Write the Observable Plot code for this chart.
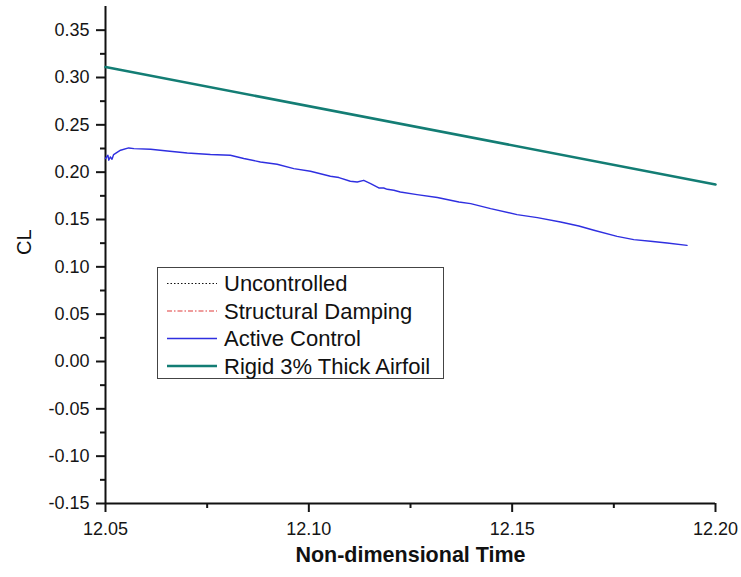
<!DOCTYPE html>
<html>
<head>
<meta charset="utf-8">
<script src="https://cdn.jsdelivr.net/npm/d3@7"></script>
<script src="https://cdn.jsdelivr.net/npm/@observablehq/plot@0.6"></script>
<style>
  html, body { margin: 0; padding: 0; background: #fff; }
  #chart { position: relative; width: 741px; height: 577px; font-family: "Liberation Sans", Arial, sans-serif; }
  #legend { position: absolute; left: 157px; top: 267px; }
</style>
</head>
<body>
<div id="chart"></div>
<script>
// Lift coefficient history vs non-dimensional time
const seriesNames = ["Uncontrolled", "Structural Damping", "Active Control", "Rigid 3% Thick Airfoil"];

// Active Control series
const activeT = [12.0500, 12.0506, 12.0508, 12.0512, 12.0516, 12.0520, 12.0537, 12.0557, 12.0570, 12.0611,
  12.0652, 12.0701, 12.0758, 12.0807, 12.0840, 12.0881, 12.0922, 12.0963, 12.1004, 12.1053,
  12.1074, 12.1102, 12.1119, 12.1135, 12.1152, 12.1172, 12.1184, 12.1193, 12.1209, 12.1225,
  12.1266, 12.1316, 12.1369, 12.1398, 12.1447, 12.1512, 12.1562, 12.1619, 12.1664, 12.1701,
  12.1758, 12.1799, 12.1840, 12.1881, 12.1930];
const activeCL = [0.2144, 0.2179, 0.2126, 0.2161, 0.2136, 0.2186, 0.2232, 0.2256, 0.2249, 0.2242,
  0.2224, 0.2203, 0.2187, 0.2179, 0.2144, 0.2108, 0.2084, 0.2038, 0.2010, 0.1957,
  0.1943, 0.1904, 0.1896, 0.1914, 0.1880, 0.1833, 0.1833, 0.1819, 0.1809, 0.1791,
  0.1763, 0.1732, 0.1685, 0.1668, 0.1615, 0.1552, 0.1520, 0.1474, 0.1431, 0.1386,
  0.1322, 0.1287, 0.1270, 0.1252, 0.1227];

// Rigid 3% thick airfoil series
const rigidT = [12.05, 12.20];
const rigidCL = [0.311, 0.187];

// Axis ticks
const xTicks = [12.05, 12.10, 12.15, 12.20];
const xMinorTicks = [12.075, 12.125, 12.175];
const yTicks = [-0.15, -0.10, -0.05, 0.00, 0.05, 0.10, 0.15, 0.20, 0.25, 0.30, 0.35];
const yMinorTicks = [-0.125, -0.075, -0.025, 0.025, 0.075, 0.125, 0.175, 0.225, 0.275, 0.325];

const colors = { black: "#111", red: "#e03a3a", blue: "#2f2fe0", teal: "#137d74" };

const active = activeT.map((t, i) => ({ t, cl: activeCL[i] }));
const rigid = rigidT.map((t, i) => ({ t, cl: rigidCL[i] }));

const plot = Plot.plot({
  width: 741,
  height: 577,
  marginLeft: 105,
  marginRight: 26,
  marginTop: 6,
  marginBottom: 74,
  x: { domain: [12.05, 12.20] },
  y: { domain: [-0.15, 0.375] },
  style: { fontFamily: "Liberation Sans, Arial, sans-serif", fontSize: "18px", color: "#151515", background: "#fff" },
  marks: [
    Plot.axisY({ ticks: yTicks, tickSize: 9, tickPadding: 7, strokeWidth: 2, tickFormat: d => d.toFixed(2), label: null }),
    Plot.axisY({ ticks: yMinorTicks, tickSize: 5, strokeWidth: 2, tickFormat: () => "", label: null }),
    Plot.axisX({ ticks: xTicks, tickSize: 9, tickPadding: 10, strokeWidth: 2, tickFormat: d => d.toFixed(2), label: null }),
    Plot.axisX({ ticks: xMinorTicks, tickSize: 5, strokeWidth: 2, tickFormat: () => "", label: null }),
    Plot.ruleX([12.05], { strokeWidth: 2, stroke: "#111" }),
    Plot.ruleY([-0.15], { strokeWidth: 2, stroke: "#111" }),
    Plot.line(rigid, { x: "t", y: "cl", stroke: colors.teal, strokeWidth: 2.6 }),
    Plot.line(active, { x: "t", y: "cl", stroke: colors.blue, strokeWidth: 1.4 }),
    Plot.text(["Non-dimensional Time"], { frameAnchor: "bottom", dy: 58, fontWeight: "bold", fontSize: 21.5, fill: "#111" }),
    Plot.text(["CL"], { frameAnchor: "left", dx: -81, rotate: -90, fontSize: 20, fill: "#111" })
  ]
});

const chart = document.getElementById("chart");
chart.appendChild(plot);

// Legend box drawn inside the plotting area
const legendW = 287, legendH = 112;
const legend = d3.create("svg")
  .attr("id", "legend")
  .attr("width", legendW)
  .attr("height", legendH)
  .style("font-family", "Liberation Sans, Arial, sans-serif");
legend.append("rect")
  .attr("x", 0.5).attr("y", 0.5)
  .attr("width", legendW - 1).attr("height", legendH - 1)
  .attr("fill", "#fff").attr("stroke", "#444").attr("stroke-width", 1);

const legendStyles = [
  { stroke: colors.black, width: 1, dash: "1.5,2" },
  { stroke: colors.red, width: 1.2, dash: "5,2,1.5,2" },
  { stroke: colors.blue, width: 1.4, dash: null },
  { stroke: colors.teal, width: 2.6, dash: null }
];
seriesNames.forEach((name, i) => {
  const cy = 16.5 + i * 27.5;
  const s = legendStyles[i];
  const ln = legend.append("line")
    .attr("x1", 10).attr("x2", 60).attr("y1", cy).attr("y2", cy)
    .attr("stroke", s.stroke).attr("stroke-width", s.width);
  if (s.dash) ln.attr("stroke-dasharray", s.dash);
  legend.append("text")
    .attr("x", 67).attr("y", cy).attr("dy", "0.35em")
    .attr("font-size", 22).attr("fill", "#111")
    .text(name);
});
chart.appendChild(legend.node());
</script>
</body>
</html>
